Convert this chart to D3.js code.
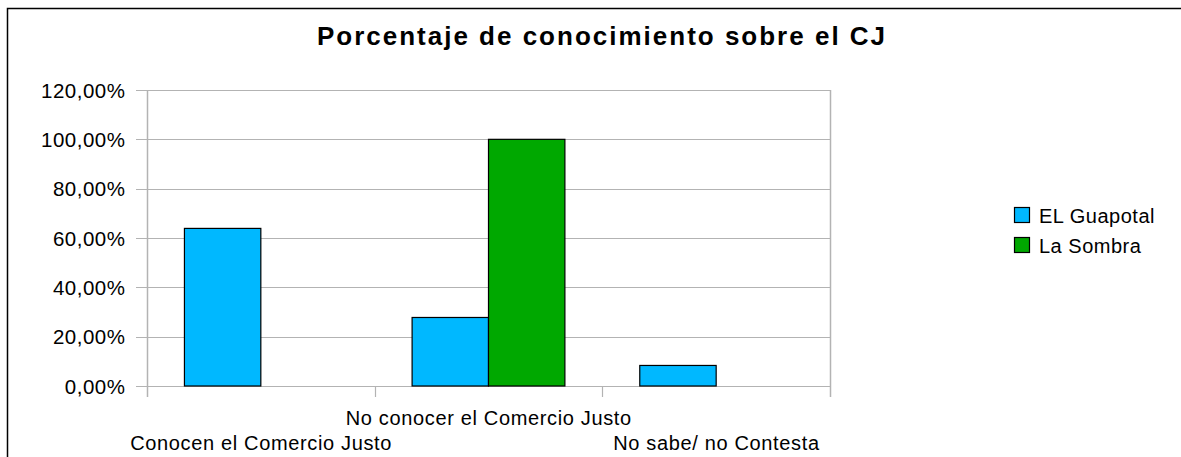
<!DOCTYPE html>
<html><head><meta charset="utf-8">
<script src="https://cdn.jsdelivr.net/npm/d3@7"></script>
<style>body{margin:0;background:#fff}svg{display:block;font-family:"Liberation Sans",Arial,sans-serif}</style>
</head><body>
<svg id="c" width="1181" height="457"></svg>
<script>
const categories = ["Conocen el Comercio Justo", "No conocer el Comercio Justo", "No sabe/ no Contesta"];
const seriesNames = ["EL Guapotal", "La Sombra"];
const guapotal = [63.89, 27.78, 8.33];
const sombra = [0, 100, 0];
const yTicks = [0, 20, 40, 60, 80, 100, 120];
const colors = ["#00b8ff", "#00a800"];

const svg = d3.select("#c");
const m = {l: 147, r: 830, t: 90, b: 386};
svg.append("rect").attr("x", 7.5).attr("y", 8.5).attr("width", 1200).attr("height", 500)
  .attr("fill", "none").attr("stroke", "#000").attr("stroke-width", 1.5);

svg.append("text").attr("x", 601 + 1).attr("y", 45).attr("text-anchor", "middle")
  .attr("font-size", 26).attr("font-weight", "bold").attr("letter-spacing", 2)
  .text("Porcentaje de conocimiento sobre el CJ");

const x = d3.scaleBand().domain(categories).range([m.l, m.r]).paddingInner(0).paddingOuter(0);
const xs = d3.scaleBand().domain(seriesNames).range([0, x.bandwidth()]).paddingInner(0).paddingOuter(0.49);
const y = d3.scaleLinear().domain([0, 120]).range([m.b, m.t]);

// gridlines
svg.append("g").selectAll("line").data(yTicks).join("line")
  .attr("x1", m.l - 11).attr("x2", m.r).attr("y1", d => Math.round(y(d)) + 0.5).attr("y2", d => Math.round(y(d)) + 0.5)
  .attr("stroke", "#b3b3b3").attr("stroke-width", 1.2);
// right border of plot
svg.append("line").attr("x1", m.r + 0.5).attr("x2", m.r + 0.5).attr("y1", m.t).attr("y2", m.b + 11)
  .attr("stroke", "#b3b3b3").attr("stroke-width", 1.5);
// y axis line
svg.append("line").attr("x1", m.l + 0.5).attr("x2", m.l + 0.5).attr("y1", m.t).attr("y2", m.b + 11)
  .attr("stroke", "#b3b3b3").attr("stroke-width", 1.5);
// category ticks
const bounds = categories.map(c => x(c)).concat([m.r]);
svg.append("g").selectAll("line").data(bounds.slice(1, 3)).join("line")
  .attr("x1", d => Math.round(d) + 0.5).attr("x2", d => Math.round(d) + 0.5).attr("y1", m.b).attr("y2", m.b + 11)
  .attr("stroke", "#b3b3b3").attr("stroke-width", 1.2);

// y labels
svg.append("g").selectAll("text").data(yTicks).join("text")
  .attr("x", 125.5).attr("y", d => y(d) + 7.5).attr("text-anchor", "end").attr("font-size", 20.5)
  .attr("letter-spacing", 0.5)
  .attr("fill", "#000").text(d => d.toFixed(2).replace(".", ",") + "%");

// bars
const data = [guapotal, sombra];
data.forEach((vals, si) => {
  svg.append("g").selectAll("rect").data(vals.map((v, i) => ({v, c: categories[i]})).filter(d => d.v > 0)).join("rect")
    .attr("x", d => x(d.c) + xs(seriesNames[si]))
    .attr("y", d => y(d.v))
    .attr("width", xs.bandwidth())
    .attr("height", d => y(0) - y(d.v))
    .attr("fill", colors[si]).attr("stroke", "#000").attr("stroke-width", 1.2);
});

// x labels (staggered)
svg.append("g").selectAll("text").data(categories).join("text")
  .attr("x", d => x(d) + x.bandwidth() / 2 + 0.3)
  .attr("y", (d, i) => i % 2 === 1 ? 425 : 450)
  .attr("text-anchor", "middle").attr("font-size", 20).attr("letter-spacing", 0.65).text(d => d);

// legend
const lg = svg.append("g");
seriesNames.forEach((s, i) => {
  lg.append("rect").attr("x", 1014.5).attr("y", 207.5 + i * 30).attr("width", 15).attr("height", 15)
    .attr("fill", colors[i]).attr("stroke", "#000").attr("stroke-width", 1.2);
  lg.append("text").attr("x", 1039).attr("y", 223 + i * 30).attr("font-size", 20)
    .attr("letter-spacing", 0.5).text(s);
});
</script>
</body></html>
